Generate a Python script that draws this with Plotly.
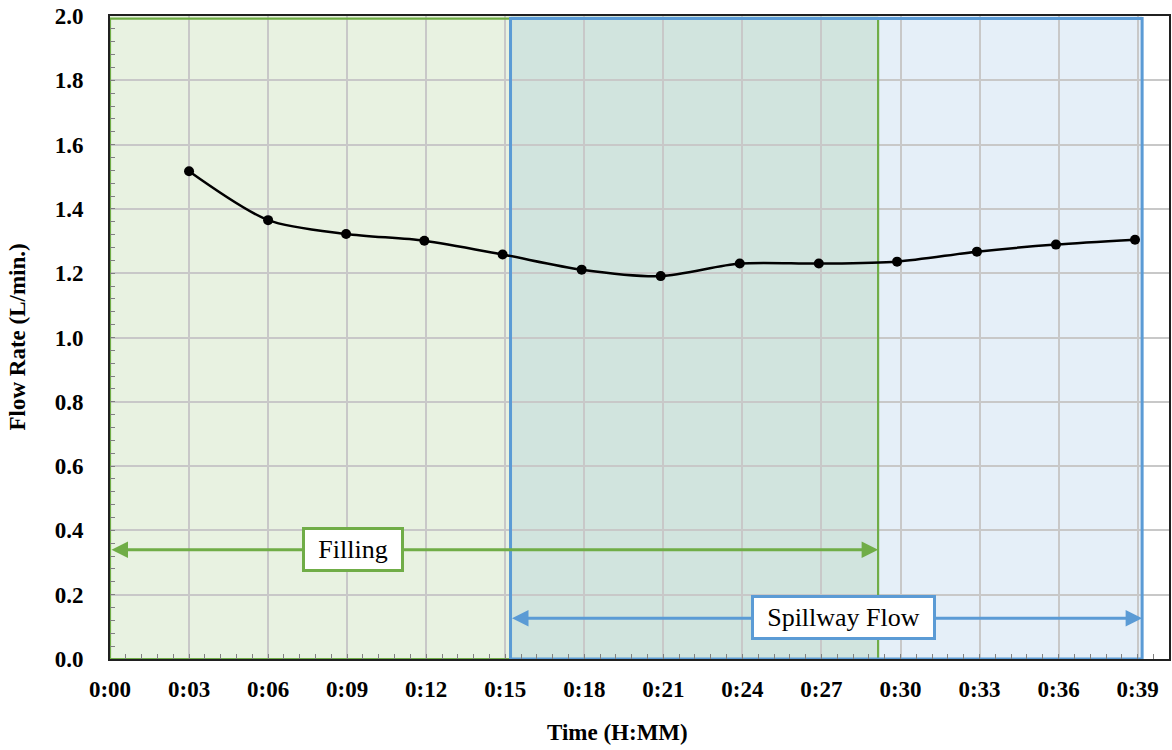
import plotly.graph_objects as go

# Measured flow rate over the run (time in minutes after start)
time_min = [3.0, 6.0, 8.96, 11.93, 14.9, 17.9, 20.9, 23.9, 26.9, 29.87, 32.9, 35.9, 38.9]
flow_lpm = [1.517, 1.365, 1.322, 1.301, 1.258, 1.211, 1.191, 1.230, 1.230, 1.236, 1.267, 1.289, 1.304]

# Phase windows (minutes)
filling_window = [0.0, 29.15]
spillway_window = [15.2, 39.17]

tick_vals = list(range(0, 40, 3))
tick_text = [f"0:{m:02d}" for m in tick_vals]

GREEN = "#70AD47"
BLUE = "#5B9BD5"
FONT = "Liberation Serif"

fig = go.Figure()

fig.add_trace(go.Scatter(
    x=time_min, y=flow_lpm, mode="lines+markers",
    line=dict(color="black", width=2.5, shape="spline", smoothing=0.8),
    marker=dict(color="black", size=10),
    showlegend=False, hoverinfo="skip",
))

# Shaded phase regions (below gridlines)
fig.add_shape(type="rect", xref="x", yref="y", layer="below",
              x0=filling_window[0], x1=filling_window[1], y0=0, y1=2.0,
              fillcolor="rgba(112,173,71,0.16)", line=dict(width=0))
fig.add_shape(type="rect", xref="x", yref="y", layer="below",
              x0=spillway_window[0], x1=spillway_window[1], y0=0, y1=2.0,
              fillcolor="rgba(91,155,213,0.16)", line=dict(width=0))

# Region outlines
top_y = 1.992
fig.add_shape(type="rect", xref="x", yref="y", layer="between",
              x0=filling_window[0], x1=filling_window[1], y0=0, y1=top_y,
              fillcolor="rgba(0,0,0,0)", line=dict(color=GREEN, width=2.2))
fig.add_shape(type="rect", xref="x", yref="y", layer="between",
              x0=spillway_window[0], x1=spillway_window[1], y0=0, y1=top_y,
              fillcolor="rgba(0,0,0,0)", line=dict(color=BLUE, width=3))


def span_arrow(x0, x1, y, color):
    fig.add_annotation(x=x1, y=y, ax=x0, ay=y, xref="x", yref="y",
                       axref="x", ayref="y", text="", showarrow=True,
                       arrowside="end+start", arrowhead=2, arrowsize=1.1,
                       arrowwidth=3, arrowcolor=color,
                       standoff=0, startstandoff=0)


def phase_label(text, x, y, color, w, h):
    fig.add_annotation(x=x, y=y, xref="x", yref="y", text=text, showarrow=False,
                       font=dict(family=FONT, size=26, color="black"),
                       bgcolor="white", bordercolor=color, borderwidth=3,
                       borderpad=1, width=w, height=h, align="center")


span_arrow(filling_window[0], filling_window[1], 0.34, GREEN)
span_arrow(spillway_window[0], spillway_window[1], 0.127, BLUE)
phase_label("Filling", 9.23, 0.341, GREEN, 94, 37)
phase_label("Spillway Flow", 27.84, 0.128, BLUE, 177, 37)

# Axis titles
fig.add_annotation(x=0, y=0.5, xref="paper", yref="paper", xshift=-93,
                   xanchor="center", yanchor="middle",
                   text="Flow Rate (L/min.)", textangle=-90, showarrow=False,
                   font=dict(family=FONT, size=23, color="black", weight="bold"))
fig.add_annotation(x=0, y=0, xref="paper", yref="paper", xshift=507, yshift=-73,
                   xanchor="center", yanchor="middle",
                   text="Time (H:MM)", showarrow=False,
                   font=dict(family=FONT, size=23, color="black", weight="bold"))

fig.update_xaxes(
    range=[0, 40.19], tickvals=tick_vals, ticktext=tick_text,
    showgrid=True, gridcolor="#C8C8C8", gridwidth=1.5,
    showline=True, linecolor="#202020", linewidth=2, mirror=True,
    ticks="inside", ticklen=5, tickcolor="#808080", tickwidth=1,
    minor=dict(dtick=0.6, ticks="inside", ticklen=5, tickcolor="#808080", showgrid=False),
    tickfont=dict(family=FONT, size=23, color="black", weight="bold"),
    ticklabelstandoff=8, zeroline=False,
)
fig.update_yaxes(
    range=[0, 2.0], dtick=0.2, tickformat=".1f",
    showgrid=True, gridcolor="#C8C8C8", gridwidth=1.5,
    showline=True, linecolor="#202020", linewidth=2, mirror=True,
    ticks="inside", ticklen=5, tickcolor="#808080", tickwidth=1,
    minor=dict(dtick=0.04, ticks="inside", ticklen=5, tickcolor="#808080", showgrid=False),
    tickfont=dict(family=FONT, size=23, color="black", weight="bold"),
    ticklabelstandoff=20, zeroline=False,
)

fig.update_layout(
    width=1172, height=750,
    margin=dict(l=110, r=1, t=16, b=91),
    paper_bgcolor="white", plot_bgcolor="white",
    showlegend=False,
)

fig.write_html("out.html")
